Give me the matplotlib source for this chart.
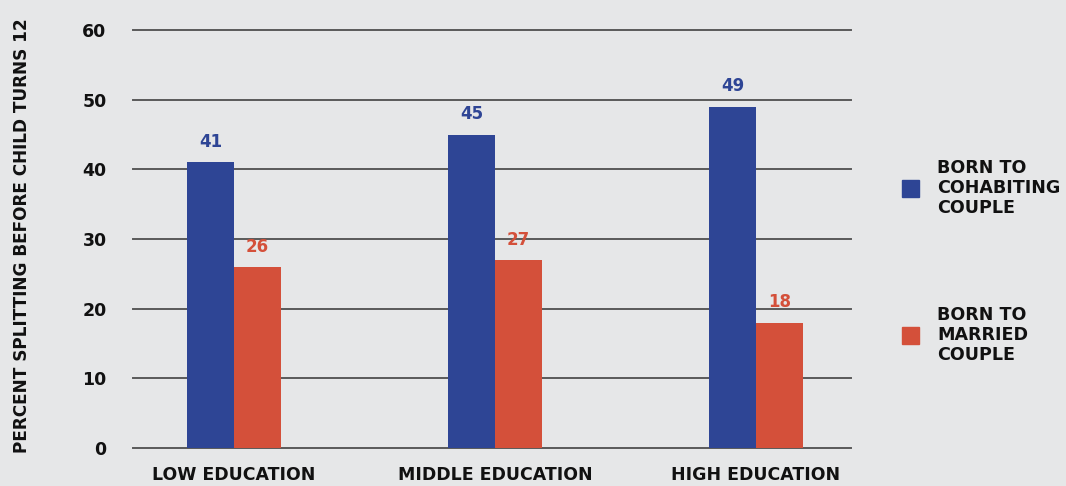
import matplotlib
matplotlib.use("Agg")
import matplotlib.pyplot as plt
import numpy as np

categories = ["LOW EDUCATION", "MIDDLE EDUCATION", "HIGH EDUCATION"]
cohabiting = [41, 45, 49]
married = [26, 27, 18]
series_labels = ["BORN TO\nCOHABITING\nCOUPLE", "BORN TO\nMARRIED\nCOUPLE"]
yticks = [0, 10, 20, 30, 40, 50, 60]
ylabel = "PERCENT SPLITTING BEFORE CHILD TURNS 12"

BLUE = "#2e4595"
RED = "#d4503a"
BG = "#e6e7e8"
GRID = "#5a5a5a"
INK = "#111111"

plt.rcParams["font.family"] = ["DejaVu Sans"]
plt.rcParams["font.weight"] = "bold"

fig = plt.figure(figsize=(10.66, 4.86), dpi=100, facecolor=BG)
ax = fig.add_axes([133 / 1066, 38 / 486, (851 - 133) / 1066, (448 - 30) / 486])
ax.set_facecolor(BG)

x = np.arange(len(categories))
w = 0.18
b1 = ax.bar(x - w / 2, cohabiting, w, color=BLUE, zorder=3)
b2 = ax.bar(x + w / 2, married, w, color=RED, zorder=3)

for bars, vals, col in ((b1, cohabiting, BLUE), (b2, married, RED)):
    for rect, v in zip(bars, vals):
        ax.text(rect.get_x() + rect.get_width() / 2, v + 1.6, str(v), ha="center",
                va="bottom", color=col, fontsize=12, fontweight="bold")

ax.set_xlim(-0.387, 2.364)
ax.set_ylim(0, 60)
ax.set_yticks(yticks)
ax.set_yticklabels([str(t) for t in yticks], fontsize=12.5, fontweight="bold")
ax.set_xticks(x)
ax.set_xticklabels(categories, fontsize=12.5, fontweight="bold")
ax.tick_params(axis="both", length=0, colors=INK)
ax.tick_params(axis="y", pad=19)
ax.tick_params(axis="x", pad=13)
ax.yaxis.grid(True, color=GRID, linewidth=1.4, zorder=0)
for gl in ax.get_ygridlines():
    gl.set_clip_on(False)
ax.set_axisbelow(True)
for s in ax.spines.values():
    s.set_visible(False)

fig.text(22 / 1066, 1 - 236 / 486, ylabel, rotation=90, ha="center", va="center",
         fontsize=12.2, fontweight="bold", color=INK)

# legend drawn as swatches with stacked labels
for lab, col, yc in zip(series_labels, [BLUE, RED], [188, 335]):
    fig.patches.append(plt.Rectangle((902 / 1066, 1 - (yc + 8.5) / 486), 17 / 1066, 17 / 486,
                                     transform=fig.transFigure, color=col))
    fig.text(937 / 1066, 1 - yc / 486, lab, ha="left", va="center", fontsize=12.6,
             fontweight="bold", color=INK, linespacing=1.12)

fig.savefig("out.png", dpi=100, facecolor=BG)
